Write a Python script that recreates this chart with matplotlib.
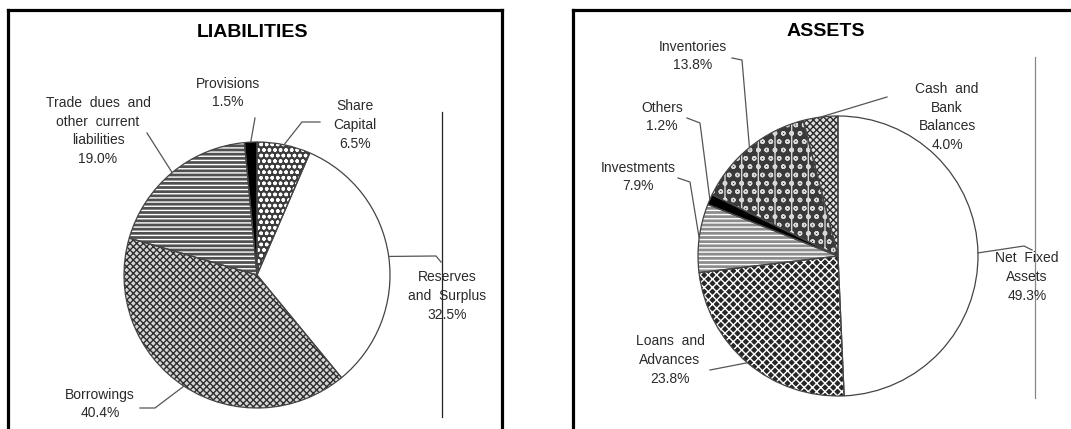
import numpy as np
import matplotlib.pyplot as plt

plt.rcParams['font.family'] = ['Liberation Sans', 'DejaVu Sans']
plt.rcParams['hatch.linewidth'] = 1.0

W, H = 1071, 429

# data (clockwise from 12 o'clock)
liab_labels = ['Share\nCapital', 'Reserves\nand  Surplus', 'Borrowings',
               'Trade  dues  and\nother  current\nliabilities', 'Provisions']
liab_values = [6.5, 32.5, 40.4, 19.0, 1.5]

asset_labels = ['Net  Fixed\nAssets', 'Loans  and\nAdvances', 'Investments',
                'Others', 'Inventories', 'Cash  and\nBank\nBalances']
asset_values = [49.3, 23.8, 7.9, 1.2, 13.8, 4.0]

# fill styles: (face, hatch colour, hatch)
liab_styles = [('#3c3c3c', 'white', 'ooo'), ('white', 'white', ''),
               ('#d6d6d6', '#2e2e2e', 'xxxxx'), ('#505050', 'white', '----'),
               ('black', 'black', '')]
asset_styles = [('white', 'white', ''), ('#262626', 'white', 'xxxx'),
                ('#8c8c8c', 'white', '----'), ('black', 'black', ''),
                ('#3a3a3a', '#d8d8d8', 'oo|'), ('#e0e0e0', '#2a2a2a', 'xxxxx')]

# layout in pixels: label centre and leader path (label side -> pie)
liab_text = [(355, 125), (447, 296), (100, 404), (98, 131), (228, 93)]
liab_path = [[(320, 122), (302, 122)], [(441, 262), (436, 256)],
             [(140, 408), (155, 408)], [(147, 133)], [(255, 118)]]
asset_text = [(1027, 277), (670, 360), (638, 177), (662, 117), (693, 56), (947, 117)]
asset_path = [[(1032, 250), (1024, 246)], [(710, 370)],
              [(678, 178), (690, 182)], [(687, 118), (700, 123)],
              [(732, 58), (742, 60)], [(887, 97)]]

fig = plt.figure(figsize=(W / 100, H / 100), dpi=100)
fig.patch.set_facecolor('white')


def panel(box, center, r, title, title_xy, labels, values, styles, texts, paths, vline, vcol):
    x0, x1, ytop, ybot = box
    cx, cy = center
    ax = fig.add_axes([x0 / W, 1 - ybot / H, (x1 - x0) / W, (ybot - ytop) / H])
    tod = lambda p: ((p[0] - cx) / r, (cy - p[1]) / r)

    wedges, _ = ax.pie(values, startangle=90, counterclock=False,
                       wedgeprops=dict(linewidth=0))
    for w, (fc, hc, h) in zip(wedges, styles):
        w.set_facecolor(fc)
        w.set_edgecolor(hc)
        w.set_hatch(h)
        w.set_linewidth(0)
    ax.pie(values, startangle=90, counterclock=False, colors=['none'] * len(values),
           wedgeprops=dict(edgecolor='#444444', linewidth=0.9))

    ax.set_xlim((x0 - cx) / r, (x1 - cx) / r)
    ax.set_ylim((cy - ybot) / r, (cy - ytop) / r)
    ax.set_aspect('auto')
    ax.set_frame_on(True)
    ax.set_xticks([])
    ax.set_yticks([])
    for s in ax.spines.values():
        s.set_linewidth(2.3)
        s.set_color('black')

    total = sum(values)
    cum = np.cumsum([0] + values[:-1])
    for lab, v, c, t, path in zip(labels, values, cum, texts, paths):
        mid = np.deg2rad(90 - 360 * (c + v / 2) / total)
        pts = [tod(p) for p in path] + [(np.cos(mid), np.sin(mid))]
        ax.plot([p[0] for p in pts], [p[1] for p in pts], color='#555555', lw=0.9)
        tx, ty = tod(t)
        ax.text(tx, ty, f'{lab}\n{v:.1f}%', ha='center', va='center', fontsize=10,
                linespacing=1.45, color='#2a2a2a')

    ax.plot(*zip(tod(vline[0]), tod(vline[1])), color=vcol, lw=0.9)
    tx, ty = tod(title_xy)
    ax.text(tx, ty, title, ha='center', va='center', fontsize=14, fontweight='bold')


panel((8, 502, 10, 445), (257, 275), 133, 'LIABILITIES', (253, 32),
      liab_labels, liab_values, liab_styles, liab_text, liab_path,
      ((442, 112), (442, 417)), '#222222')
panel((573, 1090, 10, 445), (838, 256), 140, 'ASSETS', (826, 32),
      asset_labels, asset_values, asset_styles, asset_text, asset_path,
      ((1035, 57), (1035, 398)), '#888888')

fig.savefig('out.png', dpi=100, facecolor='white')
